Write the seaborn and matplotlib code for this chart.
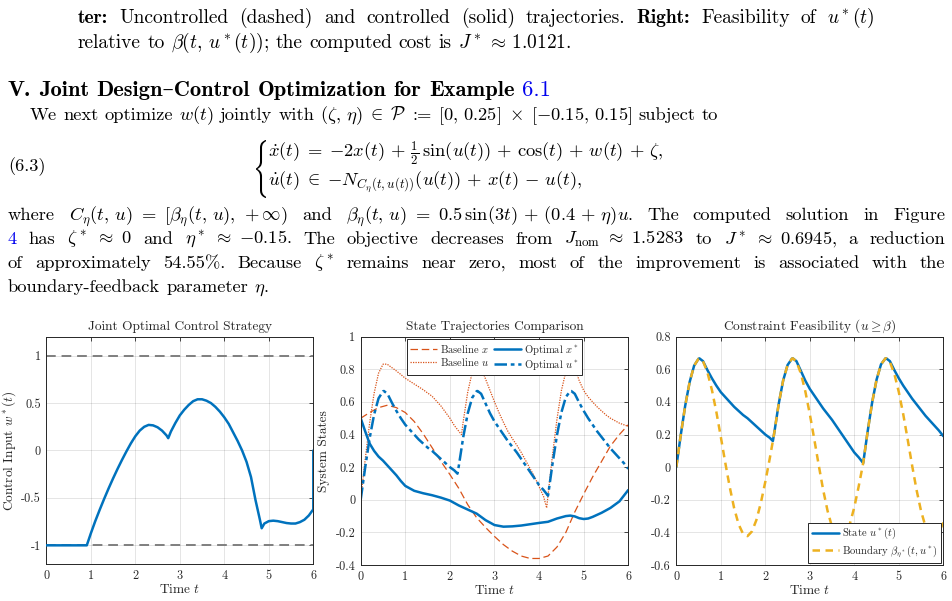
import numpy as np
import pandas as pd
import matplotlib
matplotlib.use("Agg")
import matplotlib.pyplot as plt
import seaborn as sns
from matplotlib.textpath import TextPath
from matplotlib.patches import PathPatch
from matplotlib.transforms import Affine2D, IdentityTransform

# ---- data ----
t_w = [0, 0.91, 1.0, 1.1, 1.2, 1.3, 1.4, 1.5, 1.6, 1.7, 1.8, 1.9, 2.0, 2.1, 2.2, 2.3, 2.4, 2.5, 2.6, 2.7, 2.74,
       2.8, 2.9, 3.0, 3.1, 3.2, 3.3, 3.4, 3.5, 3.6, 3.7, 3.8, 3.9, 4.0, 4.1, 4.2, 4.3, 4.4, 4.5, 4.6, 4.7, 4.8,
       4.84, 4.9, 5.0, 5.1, 5.2, 5.3, 5.4, 5.5, 5.6, 5.7, 5.8, 5.9, 6.0, 6.0]
w_opt = [-1, -1, -0.875, -0.745, -0.625, -0.51, -0.4, -0.295, -0.195, -0.1, -0.01, 0.075, 0.15, 0.21, 0.25, 0.27,
         0.265, 0.245, 0.21, 0.16, 0.13, 0.2, 0.29, 0.37, 0.43, 0.48, 0.52, 0.54, 0.54, 0.525, 0.5, 0.46, 0.41,
         0.35, 0.28, 0.19, 0.1, 0.0, -0.12, -0.28, -0.52, -0.73, -0.82, -0.77, -0.745, -0.74, -0.745, -0.755,
         -0.765, -0.77, -0.77, -0.755, -0.73, -0.685, -0.62, 0.0]

t_xb = [0, .2, .4, .6, .8, 1.0, 1.2, 1.4, 1.6, 1.8, 2.0, 2.2, 2.4, 2.6, 2.8, 3.0, 3.2, 3.4, 3.6, 3.8, 4.0, 4.2,
        4.4, 4.6, 4.8, 5.0, 5.2, 5.4, 5.6, 5.8, 6.0]
x_base = [.5, .535, .565, .58, .565, .535, .48, .405, .32, .235, .155, .07, -.03, -.11, -.17, -.225, -.275, -.315,
          -.345, -.36, -.36, -.345, -.29, -.2, -.075, .035, .14, .235, .33, .4, .46]

t_ub = [0, .1, .2, .3, .4, .5, .52, .6, .7, .8, .9, 1.0, 1.2, 1.4, 1.6, 1.8, 2.0, 2.1, 2.2, 2.26, 2.3, 2.4, 2.5,
        2.6, 2.62, 2.7, 2.8, 2.9, 3.0, 3.1, 3.2, 3.3, 3.4, 3.5, 3.6, 3.7, 3.8, 3.9, 4.0, 4.1, 4.17, 4.2, 4.3, 4.4,
        4.5, 4.6, 4.7, 4.72, 4.8, 4.9, 5.0, 5.1, 5.2, 5.3, 5.4, 5.5, 5.6, 5.7, 5.8, 5.9, 6.0]
u_base = [0, .246, .47, .652, .776, .831, .833, .83, .81, .79, .768, .745, .71, .675, .635, .575, .5, .455, .42,
          .4, .482, .661, .781, .832, .833, .81, .74, .67, .6, .535, .475, .42, .375, .335, .29, .24, .19, .14,
          .08, .02, -.05, .028, .273, .493, .67, .786, .833, .833, .81, .73, .67, .63, .6, .57, .545, .52, .5,
          .485, .47, .46, .45]

t_xo = [0, .1, .2, .3, .4, .5, .6, .7, .8, .9, 1.0, 1.2, 1.4, 1.6, 1.8, 2.0, 2.2, 2.4, 2.6, 2.8, 3.0, 3.2, 3.4,
        3.6, 3.8, 4.0, 4.2, 4.4, 4.6, 4.7, 4.8, 4.9, 5.0, 5.1, 5.2, 5.4, 5.6, 5.8, 6.0]
x_opt = [.5, .42, .345, .3, .265, .24, .21, .18, .15, .115, .085, .055, .04, .028, .013, -.005, -.035, -.06,
         -.085, -.125, -.155, -.165, -.163, -.158, -.15, -.142, -.135, -.115, -.1, -.097, -.102, -.113, -.118,
         -.115, -.105, -.08, -.05, -.01, .06]

t_u = [0, .1, .2, .3, .4, .5, .52, .6, .7, .8, .9, 1.0, 1.1, 1.2, 1.3, 1.4, 1.5, 1.6, 1.7, 1.8, 1.9, 2.0, 2.1,
       2.17, 2.2, 2.3, 2.4, 2.5, 2.6, 2.62, 2.7, 2.8, 2.9, 3.0, 3.1, 3.2, 3.3, 3.4, 3.5, 3.6, 3.7, 3.8, 3.9, 4.0,
       4.1, 4.2, 4.3, 4.4, 4.5, 4.6, 4.7, 4.72, 4.8, 4.9, 5.0, 5.1, 5.2, 5.3, 5.4, 5.5, 5.6, 5.7, 5.8, 5.9, 6.0]
u_opt = [0, .197, .377, .522, .622, .665, .667, .65, .595, .545, .5, .46, .43, .4, .37, .345, .32, .3, .275, .25,
         .225, .2, .18, .16, .208, .386, .53, .626, .666, .667, .65, .59, .53, .48, .44, .40, .36, .325, .29, .25,
         .21, .17, .13, .09, .06, .025, .219, .395, .536, .63, .667, .667, .65, .595, .545, .5, .46, .42, .385,
         .35, .315, .285, .255, .225, .19]
beta = [0, .197, .377, .522, .622, .665, .667, .65, .58, .474, .339, .186, .028, -.121, -.252, -.35, -.409, -.423,
        -.394, -.324, -.219, -.09, .053, .16, .208, .386, .53, .626, .666, .667, .648, .574, .464, .326, .172,
        .013, -.139, -.269, -.367, -.428, -.444, -.416, -.348, -.246, -.116, .025, .219, .395, .536, .63, .667,
        .667, .645, .572, .461, .324, .169, .009, -.141, -.269, -.364, -.421, -.432, -.399, -.34]

x_ticks = [0, 1, 2, 3, 4, 5, 6]
ticks_w = [-1, -0.5, 0, 0.5, 1]
ticks_w_lab = ['-1', '-0.5', '0', '0.5', '1']
ticks_s = [-0.4, -0.2, 0, 0.2, 0.4, 0.6, 0.8, 1]
ticks_s_lab = ['-0.4', '-0.2', '0', '0.2', '0.4', '0.6', '0.8', '1']
ticks_c = [-0.6, -0.4, -0.2, 0, 0.2, 0.4, 0.6, 0.8]
ticks_c_lab = ['-0.6', '-0.4', '-0.2', '0', '0.2', '0.4', '0.6', '0.8']

BLUE = '#0072BD'
ORANGE = '#D95319'
YELLOW = '#EDB120'
INK = '#262626'

sns.set_theme(style='white')
plt.rcParams['font.family'] = ['cmr10', 'DejaVu Serif']
plt.rcParams['mathtext.fontset'] = 'cm'
plt.rcParams['axes.unicode_minus'] = False
plt.rcParams['axes.formatter.use_mathtext'] = True

W, H, DPI = 953, 601, 100
fig = plt.figure(figsize=(W / DPI, H / DPI), dpi=DPI)
renderer = fig.canvas.get_renderer()

FS = 13.3
BOLD = dict(family=['cmb10', 'DejaVu Serif'])
LINK = dict(color='#0000EE')


def put_line(y, words, x0, x1=None, size=FS):
    objs = []
    for w in words:
        s, kw = (w, {}) if isinstance(w, str) else w
        props = dict(fontsize=size, va='baseline', ha='left', color='black')
        props.update(kw)
        objs.append(fig.text(0, 0, s, transform=IdentityTransform(), **props))
    widths = [o.get_window_extent(renderer).width for o in objs]
    gap = size * DPI / 72 * 0.333 if x1 is None else (x1 - x0 - sum(widths)) / (len(objs) - 1)
    x = x0
    for o, wd in zip(objs, widths):
        o.set_position((x, H - y))
        x += wd + gap


put_line(23, [('ter:', BOLD), 'Uncontrolled', '(dashed)', 'and', 'controlled', '(solid)', 'trajectories.',
              ('Right:', BOLD), 'Feasibility', 'of', r'$u^*(t)$'], 78, 875, size=14.0)
put_line(48, ['relative', 'to', r'$\beta(t,\,u^*(t))$;', 'the', 'computed', 'cost', 'is',
              r'$J^*\,\approx\,1.0121$.'], 78, size=14.0)
put_line(96, [('V.', BOLD), ('Joint', BOLD), ('Design\u2013Control', BOLD), ('Optimization', BOLD),
              ('for', BOLD), ('Example', BOLD), ('6.1', LINK)], 8, size=16.2)
put_line(120, ['We', 'next', 'optimize', r'$w(t)$', 'jointly', 'with',
               r'$(\zeta,\,\eta)\;\in\;\mathcal{P}$', ':=', r'$[0,\,0.25]\;\times\;[{-}0.15,\,0.15]$',
               'subject', 'to'], 30)
put_line(171, ['(6.3)'], 8)
put_line(157, [r'$\dot{x}(t)\;=\;{-}2x(t)\,+\,\frac{1}{2}\,\sin(u(t))\,+\,\cos(t)\,+\,w(t)\,+\,\zeta,$'], 268)
put_line(186, [r'$\dot{u}(t)\;\in\;{-}N_{C_\eta(t,u(t))}(u(t))\,+\,x(t)\,-\,u(t),$'], 268)
put_line(220, ['where', r'$C_\eta(t,\,u)\ =\ [\beta_\eta(t,\,u),\,+\infty)$', 'and',
               r'$\beta_\eta(t,\,u)\ =\ 0.5\,\sin(3t)\,+\,(0.4\,+\,\eta)u$.', 'The', 'computed', 'solution', 'in',
               'Figure'], 8, 945)
put_line(244, [('4', LINK), 'has', r'$\zeta^*\ \approx\ 0$', 'and', r'$\eta^*\ \approx\ {-}0.15$.', 'The',
               'objective', 'decreases', 'from', r'$J_{\mathrm{nom}}\ \approx\ 1.5283$', 'to',
               r'$J^*\ \approx\ 0.6945$,', 'a', 'reduction'], 8, 945)
put_line(268, ['of', 'approximately', '54.55%.', 'Because', r'$\zeta^*$', 'remains', 'near', 'zero,', 'most', 'of',
               'the', 'improvement', 'is', 'associated', 'with', 'the'], 8, 945)
put_line(292, ['boundary-feedback', 'parameter', r'$\eta$.'], 8)

# big left brace of the equation system
bp = TextPath((0, 0), r'$\{$', size=20)
bb = bp.get_extents()
tr = (Affine2D().translate(-bb.x0, -bb.y0)
      .scale(10 / bb.width, 58 / bb.height)
      .translate(256, H - 198))
fig.add_artist(PathPatch(bp, transform=tr, facecolor='black', edgecolor='none'))

# ---- axes ----
ax1 = fig.add_axes([46.3 / W, 1 - 564.3 / H, 267 / W, 227.6 / H])
ax2 = fig.add_axes([360.7 / W, 1 - 565 / H, 267.6 / W, 228.3 / H])
ax3 = fig.add_axes([676.3 / W, 1 - 565 / H, 267 / W, 228.3 / H])


def matlab_style(ax, ylim, yt, ytl, title):
    ax.set_xlim(0, 6)
    ax.set_ylim(*ylim)
    ax.set_xticks(x_ticks)
    ax.set_xticklabels([str(v) for v in x_ticks])
    ax.set_yticks(yt)
    ax.set_yticklabels(ytl)
    ax.grid(True, color='black', alpha=0.12, linewidth=0.6)
    ax.tick_params(direction='in', top=True, right=True, length=3, width=0.6, colors=INK,
                   labelsize=8.8, pad=4)
    for sp in ax.spines.values():
        sp.set_visible(True)
        sp.set_color(INK)
        sp.set_linewidth(0.7)
    ax.set_title(title, fontsize=9.6, color=INK, pad=5)
    ax.set_xlabel(r'Time $t$', fontsize=9.6, color=INK, labelpad=1)


# left: control
for lev in (1, -1):
    ax1.axhline(lev, color='#7f7f7f', linestyle=(0, (5, 3)), linewidth=1.4, zorder=1)
sns.lineplot(x=t_w, y=w_opt, ax=ax1, color=BLUE, linewidth=1.8, sort=False, estimator=None, zorder=3)
matlab_style(ax1, (-1.2, 1.2), ticks_w, ticks_w_lab, 'Joint Optimal Control Strategy')
ax1.set_ylabel(r'Control Input $w^*(t)$', fontsize=9.6, color=INK, labelpad=2)

# middle: states
sns.lineplot(x=t_xb, y=x_base, ax=ax2, color=ORANGE, linestyle=(0, (6, 3)), linewidth=0.9,
             sort=False, estimator=None, label=r'Baseline $x$')
sns.lineplot(x=t_ub, y=u_base, ax=ax2, color=ORANGE, linestyle=(0, (1, 1)), linewidth=0.9,
             sort=False, estimator=None, label=r'Baseline $u$')
sns.lineplot(x=t_xo, y=x_opt, ax=ax2, color=BLUE, linewidth=1.8, sort=False, estimator=None,
             label=r'Optimal $x^*$')
sns.lineplot(x=t_u, y=u_opt, ax=ax2, color=BLUE, linestyle=(0, (5, 1.5, 1.5, 1.5)), linewidth=1.8,
             sort=False, estimator=None, label=r'Optimal $u^*$')
matlab_style(ax2, (-0.4, 1.0), ticks_s, ticks_s_lab, 'State Trajectories Comparison')
ax2.set_ylabel('System States', fontsize=9.6, color=INK, labelpad=4)
leg = ax2.legend(loc='upper center', ncol=2, fontsize=7.6, frameon=True, fancybox=False, framealpha=1,
                 edgecolor=INK, borderaxespad=0.25, handlelength=2.6, handletextpad=0.3, columnspacing=0.4,
                 labelspacing=0.15, borderpad=0.3)
leg.get_frame().set_linewidth(0.7)

# right: constraint
sns.lineplot(x=t_u, y=u_opt, ax=ax3, color=BLUE, linewidth=1.8, sort=False, estimator=None,
             label=r'State $u^*(t)$')
sns.lineplot(x=t_u, y=beta, ax=ax3, color=YELLOW, linestyle=(0, (3, 2.2)), linewidth=1.8, sort=False,
             estimator=None, label=r'Boundary $\beta_{\eta^*}(t,u^*)$')
matlab_style(ax3, (-0.6, 0.8), ticks_c, ticks_c_lab, r'Constraint Feasibility ($u \geq \beta$)')
leg = ax3.legend(loc='lower right', fontsize=7.6, frameon=True, fancybox=False, framealpha=1, edgecolor=INK,
                 borderaxespad=0.2, handlelength=2.6, handletextpad=0.3, labelspacing=0.15, borderpad=0.3)
leg.get_frame().set_linewidth(0.7)

fig.savefig('out.png', dpi=DPI)
